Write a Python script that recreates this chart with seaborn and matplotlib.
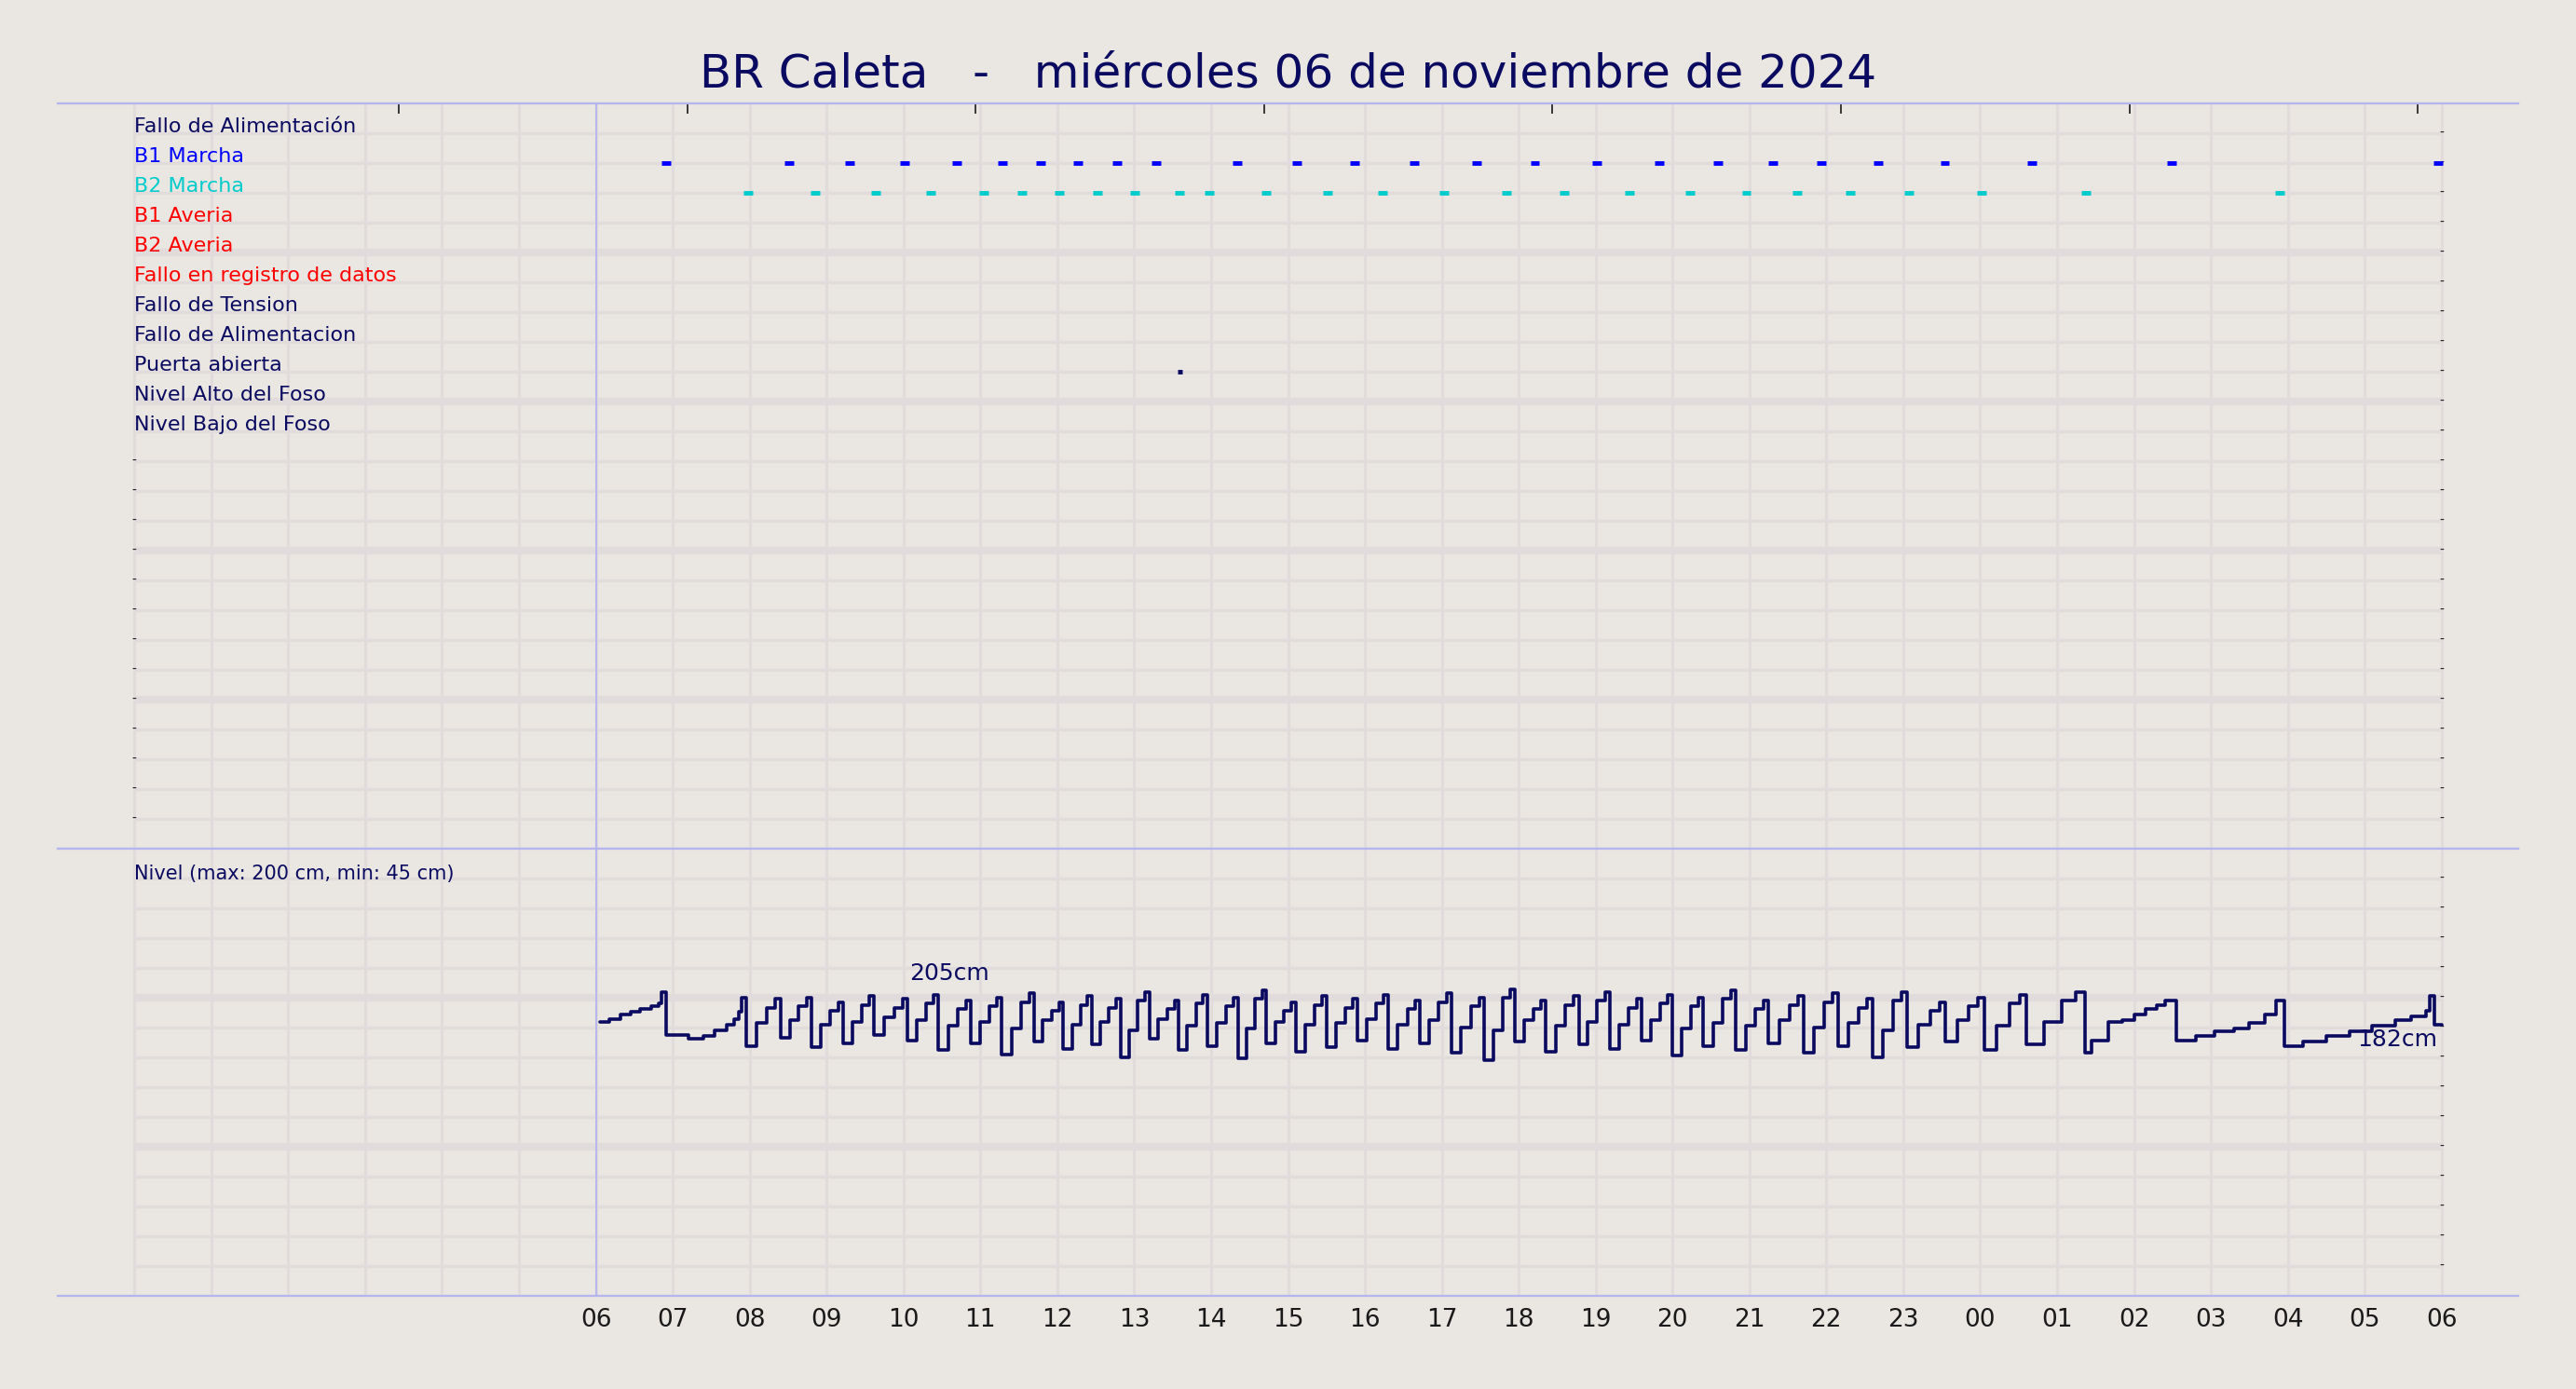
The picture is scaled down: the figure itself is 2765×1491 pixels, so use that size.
import numpy as np
import pandas as pd
import matplotlib.pyplot as plt
import seaborn as sns

# ---- data -------------------------------------------------------------
TITLE = "BR Caleta   -   miércoles 06 de noviembre de 2024"
HOUR_LABELS = ["06", "07", "08", "09", "10", "11", "12", "13", "14", "15", "16", "17",
               "18", "19", "20", "21", "22", "23", "00", "01", "02", "03", "04", "05", "06"]

SIGNALS = ["Fallo de Alimentación", "B1 Marcha", "B2 Marcha", "B1 Averia", "B2 Averia",
           "Fallo en registro de datos", "Fallo de Tension", "Fallo de Alimentacion",
           "Puerta abierta", "Nivel Alto del Foso", "Nivel Bajo del Foso"]
SIGNAL_COLORS = ["#0a0a60", "#0000ff", "#00cccc", "#ff0000", "#ff0000", "#ff0000",
                 "#0a0a60", "#0a0a60", "#0a0a60", "#0a0a60", "#0a0a60"]

# event start times (hours after 06:00)
b1_on = [0.85, 2.45, 3.24, 3.95, 4.63, 5.23, 5.72, 6.21, 6.72, 7.23, 8.28, 9.06, 9.81,
         10.58, 11.39, 12.15, 12.96, 13.77, 14.53, 15.24, 15.88, 16.61, 17.48, 18.61,
         20.43, 23.89]
b2_on = [1.92, 2.79, 3.58, 4.29, 4.99, 5.48, 5.97, 6.46, 6.95, 7.53, 7.92, 8.66, 9.45,
         10.17, 10.97, 11.78, 12.53, 13.38, 14.17, 14.90, 15.56, 16.25, 17.01, 17.96,
         19.31, 21.84]
door_on = [7.57]
EVENT_LEN = 0.12

# level (cm): opening ramp, oscillating cycles, closing ramps
ramp0_t = [0.05, 0.18, 0.32, 0.45, 0.58, 0.72, 0.82, 0.85, 0.92, 1.20, 1.40, 1.55, 1.70, 1.80, 1.86, 1.90]
ramp0_v = [185, 187, 190, 192, 194, 196, 198, 206, 176, 173, 175, 179, 183, 187, 192, 202]

cyc_t = [1.95, 2.40, 2.80, 3.22, 3.62, 4.05, 4.45, 4.88, 5.28, 5.70, 6.08, 6.45, 6.82, 7.20,
         7.58, 7.95, 8.35, 8.72, 9.10, 9.50, 9.90, 10.30, 10.72, 11.12, 11.55, 11.95, 12.35,
         12.78, 13.18, 13.60, 14.00, 14.40, 14.82, 15.25, 15.70, 16.15, 16.60, 17.05, 17.55,
         18.05, 18.60]
cyc_low = [168, 174, 167, 170, 176, 172, 165, 170, 162, 171, 166, 169, 160, 173, 165, 168,
           159, 170, 164, 167, 172, 166, 170, 163, 158, 171, 164, 169, 166, 172, 161, 168,
           165, 170, 163, 168, 160, 167, 171, 165, 169]
cyc_mid = [184, 186, 183, 185, 188, 186, 182, 185, 180, 186, 183, 185, 179, 187, 182, 184,
           180, 185, 183, 184, 187, 183, 186, 181, 179, 186, 182, 185, 183, 186, 180, 184,
           182, 186, 181, 184, 179, 183, 186, 182, 185]
cyc_high = [201, 202, 199, 203, 201, 204, 200, 202, 205, 199, 203, 201, 206, 200, 204, 202,
            207, 199, 203, 201, 204, 200, 205, 202, 208, 200, 203, 206, 201, 204, 202, 207,
            200, 203, 205, 201, 206, 199, 202, 204, 206]

ramp1_t = [19.36, 19.45, 19.67, 19.85, 20.00, 20.15, 20.30, 20.40, 20.55, 20.80, 21.05,
           21.30, 21.50, 21.70, 21.85, 21.95, 22.20, 22.50, 22.80, 23.10, 23.40, 23.60,
           23.80, 23.85, 23.90, 24.00]
ramp1_v = [163, 172, 185, 186, 190, 194, 197, 200, 172, 175, 178, 180, 184, 190, 200,
           168, 171, 175, 178, 182, 186, 189, 193, 203, 183, 183]

MAX_LABEL = "205cm"
MAX_AT = 4.6
LAST_LABEL = "182cm"

# ---- styling ----------------------------------------------------------
BG = "#eae6e1"
GRID = "#e1dcdb"
SPINE = "#b4b4f0"
NAVY = "#0a0a60"

sns.set_theme(style="white")
plt.rcParams["font.family"] = ["DejaVu Sans"]

fig = plt.figure(figsize=(27.65, 14.91), dpi=100, facecolor=BG)
ax_ev = fig.add_axes([0.0223, 0.3889, 0.9554, 0.5366], facecolor=BG)
ax_lv = fig.add_axes([0.0223, 0.0674, 0.9554, 0.3215], facecolor=BG)

XMIN, XMAX = -7, 25


def frame(ax, nrows, y_of_row):
    ax.set_xlim(XMIN, XMAX)
    for s in ["left", "right"]:
        ax.spines[s].set_visible(False)
    for s in ["top", "bottom"]:
        ax.spines[s].set_color(SPINE)
        ax.spines[s].set_linewidth(1.6)
    for h in range(-6, 25):
        ax.axvline(h, color=GRID, lw=2.2, zorder=0)
    for r in range(1, nrows):
        ax.plot([-6, 24], [y_of_row(r)] * 2, color=GRID, lw=6 if r % 5 == 0 else 2.5,
                zorder=0, solid_capstyle="butt")
        ax.text(24, y_of_row(r), "-", ha="center", va="center", fontsize=10, color="k")
    ax.axvline(0, color=SPINE, lw=1.3, zorder=1)
    ax.set_yticks([])


# ---- events panel -----------------------------------------------------
N_EV = 25
ax_ev.set_ylim(N_EV, 0)
frame(ax_ev, N_EV, lambda r: r)
ax_ev.set_xticks([])
for i, (name, col) in enumerate(zip(SIGNALS, SIGNAL_COLORS)):
    ax_ev.text(-6, i + 1 + 0.1, name, color=col, fontsize=16, ha="left", va="bottom")
for r in range(len(SIGNALS) + 1, N_EV):
    ax_ev.text(-6, r, "-", ha="center", va="center", fontsize=10, color="k")

ev = pd.DataFrame({
    "start": b1_on + b2_on + door_on,
    "row": [2] * len(b1_on) + [3] * len(b2_on) + [9] * len(door_on),
    "sig": ["B1"] * len(b1_on) + ["B2"] * len(b2_on) + ["door"] * len(door_on),
})
ev_col = {"B1": "#0000ff", "B2": "#00cccc", "door": NAVY}
for _, e in ev.iterrows():
    ln = EVENT_LEN if e["sig"] != "door" else 0.05
    ax_ev.hlines(e["row"], e["start"], e["start"] + ln, color=ev_col[e["sig"]], lw=3.5, zorder=3)

top = ax_ev.secondary_xaxis("top")
top.set_xticks(np.arange(-2.56, 24, 3.75))
top.set_xticklabels([])
top.tick_params(direction="in", length=8, width=1.2, color="k")
top.spines["top"].set_visible(False)

# ---- level panel ------------------------------------------------------
N_LV = 15
CM_TOP, CM_ROW = 307, 21
ax_lv.set_ylim(CM_TOP - N_LV * CM_ROW, CM_TOP)
frame(ax_lv, N_LV, lambda r: CM_TOP - r * CM_ROW)

t_all, v_all = list(ramp0_t), list(ramp0_v)
next_t = cyc_t[1:] + [ramp1_t[0]]
for t0, t1, lo, mi, hi in zip(cyc_t, next_t, cyc_low, cyc_mid, cyc_high):
    p = t1 - t0
    t_all += [t0, t0 + 0.3 * p, t0 + 0.6 * p, t0 + 0.85 * p]
    v_all += [lo, mi, hi - 6, hi]
t_all += ramp1_t
v_all += ramp1_v
lvl = pd.DataFrame({"hour": t_all, "cm": v_all})
sns.lineplot(data=lvl, x="hour", y="cm", ax=ax_lv, color=NAVY, lw=2.6,
             drawstyle="steps-post", zorder=4)
ax_lv.set_xlabel("")
ax_lv.set_ylabel("")
ax_lv.set_yticks([])
ax_lv.text(-6, CM_TOP - CM_ROW - 3, "Nivel (max: 200 cm, min: 45 cm)", color=NAVY,
           fontsize=15, ha="left", va="bottom")
ax_lv.text(MAX_AT, max(v_all) + 3, MAX_LABEL, color=NAVY, fontsize=18, ha="center", va="bottom")
ax_lv.text(23.95, lvl["cm"].iloc[-1] - 3, LAST_LABEL, color=NAVY, fontsize=18, ha="right", va="top")

ax_lv.set_xticks(range(0, 25))
ax_lv.set_xticklabels(HOUR_LABELS, fontsize=19, color="k")
ax_lv.tick_params(axis="x", length=0, pad=10)

fig.suptitle(TITLE, fontsize=36, color=NAVY, y=0.963)
fig.savefig("out.png", dpi=100, facecolor=BG)
